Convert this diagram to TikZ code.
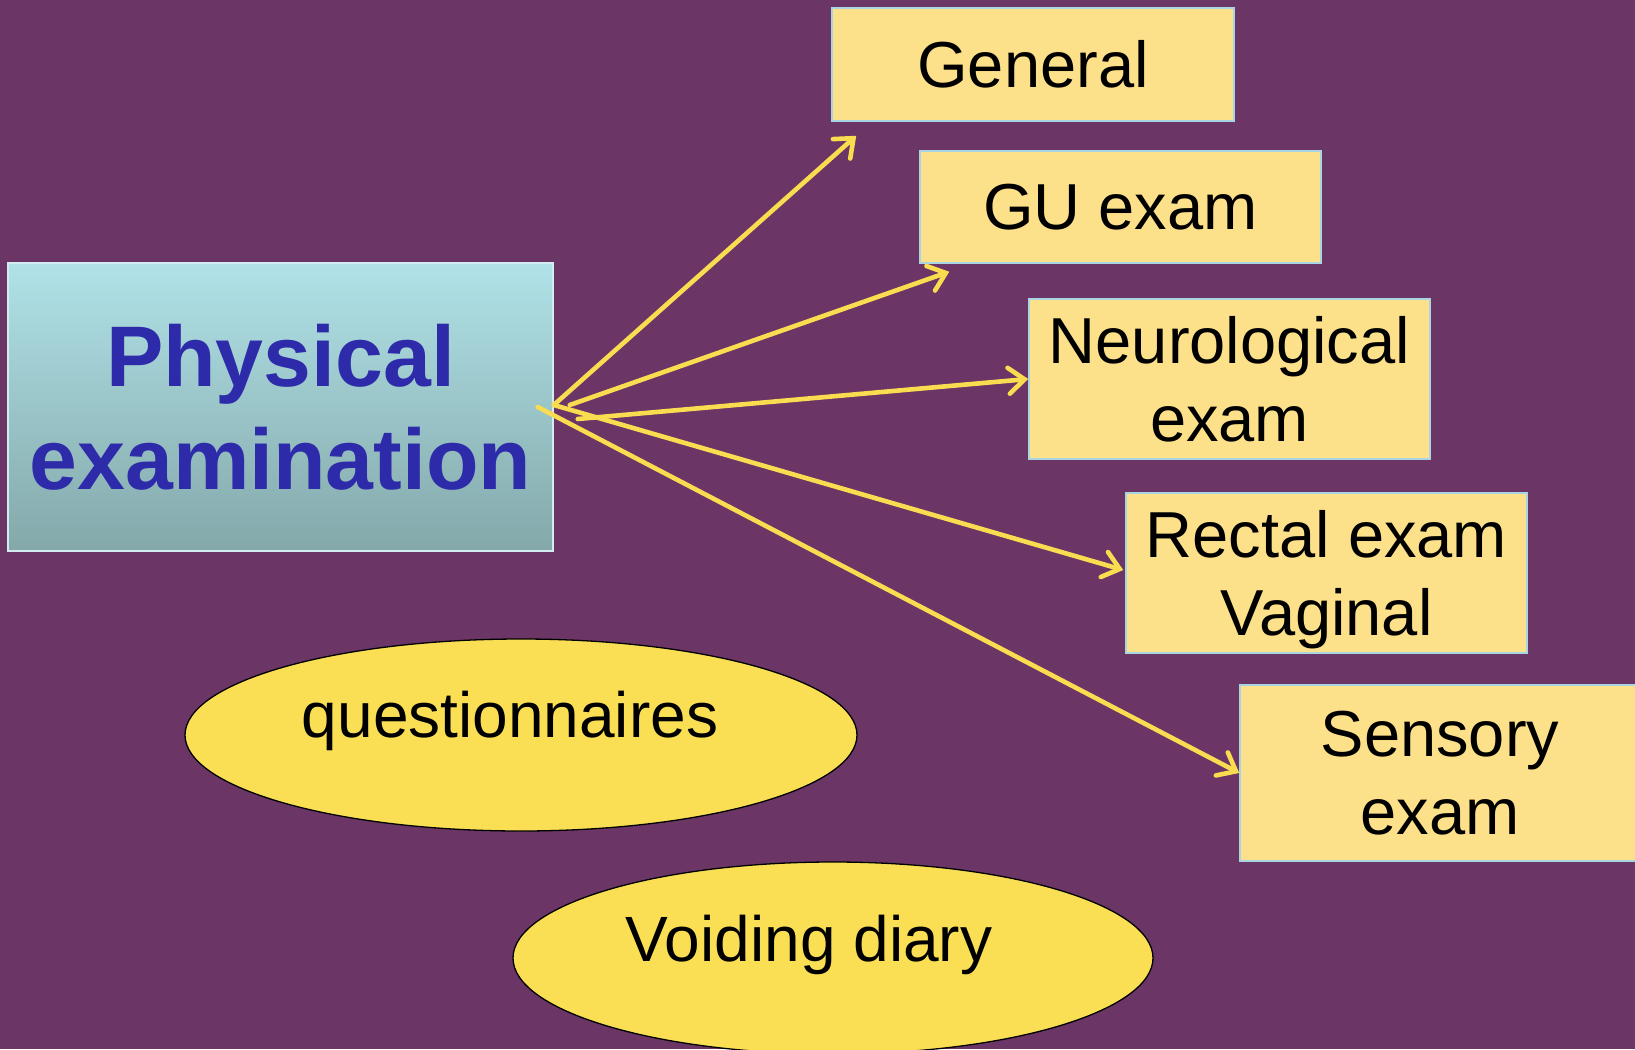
\documentclass[tikz,border=0pt]{standalone}
\usepackage{fontspec}
\setmainfont{Liberation Sans}
\usetikzlibrary{arrows.meta,calc,shapes.geometric}

\definecolor{bgpurple}{HTML}{6B3666}
\definecolor{boxfill}{HTML}{FDE18A}
\definecolor{boxedge}{HTML}{A9D4E2}
\definecolor{phystop}{HTML}{B0E2E7}
\definecolor{physbottom}{HTML}{84A8AA}
\definecolor{physedge}{HTML}{D2ECF2}
\definecolor{phystext}{HTML}{2E2BAA}
\definecolor{ovalfill}{HTML}{FADF55}
\definecolor{arrowyellow}{HTML}{F9DC50}

\begin{document}
\begin{tikzpicture}[x=1pt,y=-1pt,
  itembox/.style={draw=boxedge, line width=1.5pt, fill=boxfill, inner sep=0pt,
    align=center, text=black, font=\fontsize{65}{78}\selectfont},
  pointer/.style={draw=arrowyellow, line width=4.6pt, line cap=round,
    -{Straight Barb[length=16pt,width=26pt,line cap=round]}},
  oval/.style={ellipse, draw=black, line width=1.3pt, fill=ovalfill, inner sep=0pt},
  ovaltext/.style={text=black, inner sep=0pt, font=\fontsize{64}{76}\selectfont}
]
\useasboundingbox (0,0) rectangle (1635,1049);
\fill[bgpurple] (0,0) rectangle (1635,1049);

% main box
\node[draw=physedge, line width=1.5pt, top color=phystop, bottom color=physbottom,
      minimum width=545pt, minimum height=288pt, inner sep=0pt, align=center,
      text=phystext, font=\bfseries\fontsize{86}{103}\selectfont]
      (phys) at (280.5,407) {Physical\\examination};

% examination items
\node[itembox, minimum width=402pt, minimum height=113pt] (gen) at (1033,64.5) {General};
\node[itembox, minimum width=401pt, minimum height=112pt] (gu) at (1120.5,207) {GU exam};
\node[itembox, minimum width=401pt, minimum height=160pt] (neuro) at (1229.5,379) {Neurological\\exam};
\node[itembox, minimum width=401pt, minimum height=160pt] (rectal) at (1326.5,573)
      {Rectal exam\\\raisebox{0pt}[\height][0pt]{Vaginal}};
\node[itembox, minimum width=400pt, minimum height=176pt] (sensory) at (1440,773) {Sensory\\exam};

% connectors fanning out of the main box
\coordinate (s1) at ($(phys.east)+(0,-2)$);
\coordinate (s2) at ($(phys.east)+(16,-2)$);
\coordinate (s3) at ($(phys.east)+(24,12)$);
\coordinate (s4) at ($(phys.east)+(-16,0)$);
\draw[pointer] (s1) -- ($(gen.south west)+(25,14)$);
\draw[pointer] (s2) -- ($(gu.south west)+(30,8)$);
\draw[pointer] (s3) -- (neuro.west);
\draw[pointer] (s1) -- ($(rectal.west)+(-2,-3)$);
\draw[pointer] (s4) -- (sensory.west);

% ovals
\node[oval, minimum width=672pt, minimum height=192pt] (quest) at (521,735) {};
\node[ovaltext] (questtext) at ($(quest.center)+(-11,-14)$) {questionnaires};
\node[oval, minimum width=640pt, minimum height=192pt] (diary) at (833,958) {};
\node[ovaltext] (diarytext) at ($(diary.center)+(-24,-13)$) {Voiding diary};
\end{tikzpicture}
\end{document}
